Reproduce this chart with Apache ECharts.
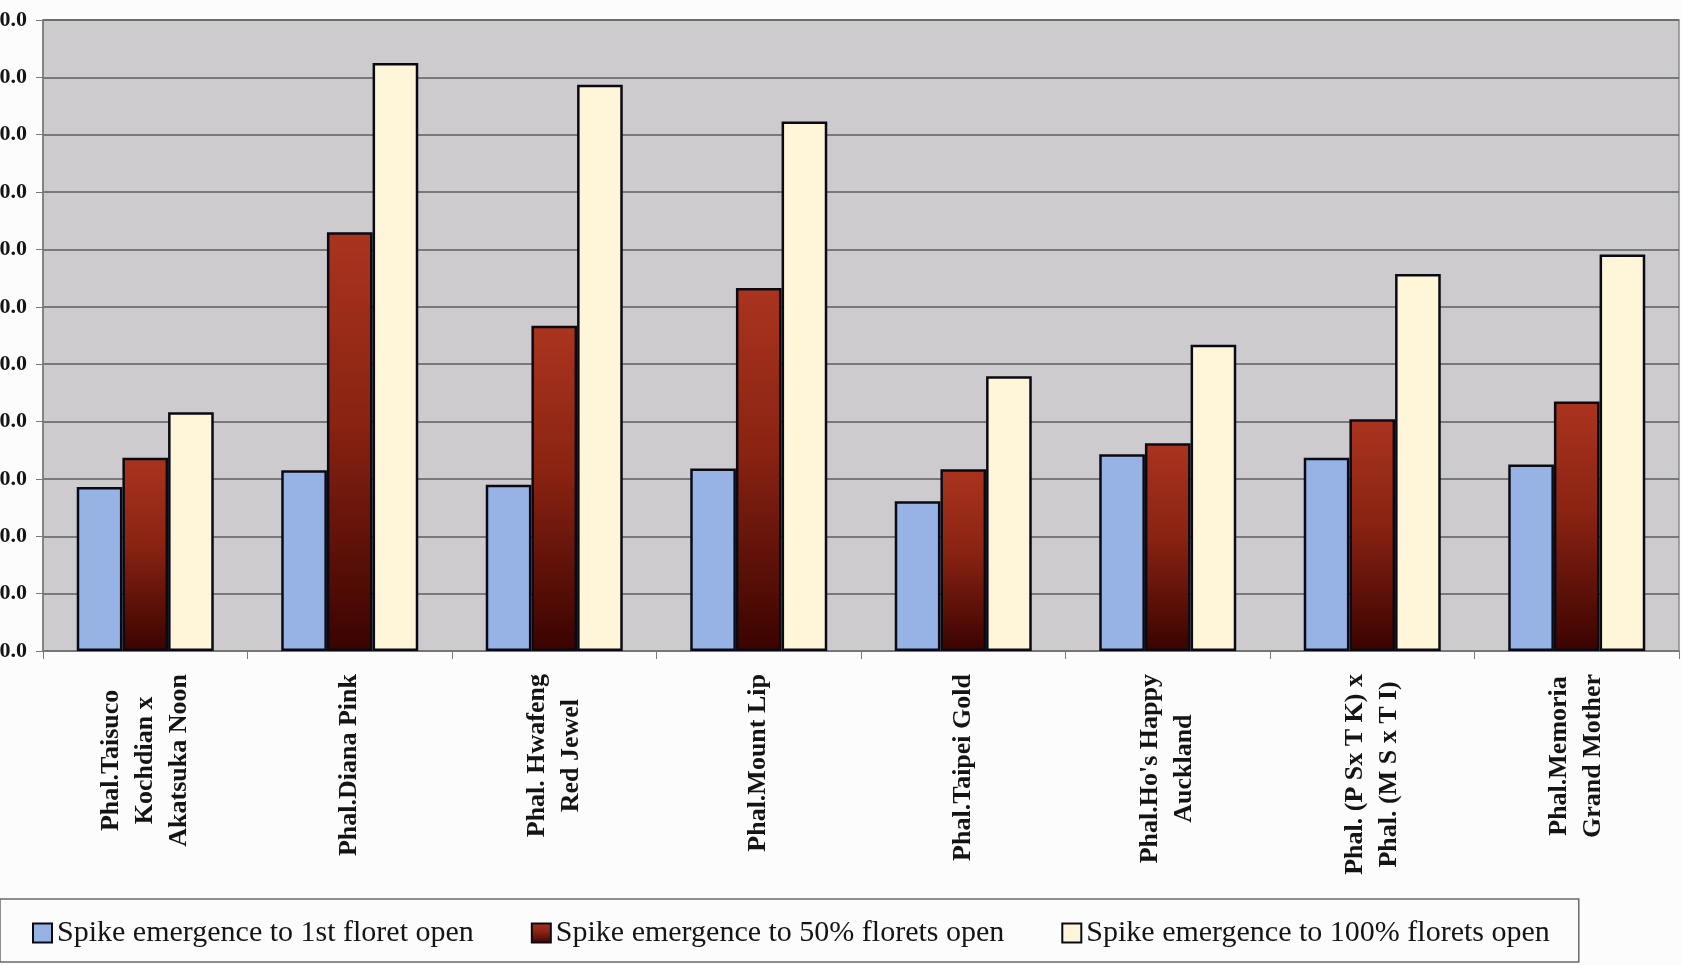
<!DOCTYPE html>
<html>
<head>
<meta charset="utf-8">
<title>Phalaenopsis spike development</title>
<script src="https://cdn.jsdelivr.net/npm/echarts@6/dist/echarts.min.js"></script>
<style>
  html, body { margin: 0; padding: 0; background: #fdfcfd; }
  #chart { width: 1682px; height: 965px; }
</style>
</head>
<body>
<div id="chart"></div>
<script>
// Hybrids / cultivars on the category axis (line breaks as printed)
const categories = [
  'Phal.Taisuco\nKochdian x\nAkatsuka Noon',
  'Phal.Diana Pink',
  'Phal. Hwafeng\nRed Jewel',
  'Phal.Mount Lip',
  'Phal.Taipei Gold',
  "Phal.Ho's Happy\nAuckland",
  'Phal. (P Sx T K) x\nPhal. (M S x T I)',
  'Phal.Memoria\nGrand Mother'
];

const seriesNames = [
  'Spike emergence to 1st floret open',
  'Spike emergence to 50% florets open',
  'Spike emergence to 100% florets open'
];

// Days from spike emergence
const firstFloret   = [28.6, 31.5, 29.0, 31.8, 26.1, 34.3, 33.7, 32.5];
const halfFlorets   = [33.7, 73.0, 56.7, 63.3, 31.7, 36.2, 40.4, 43.5];
const allFlorets    = [41.6, 102.5, 98.7, 92.3, 47.9, 53.4, 65.7, 69.1];

// Value axis range
const yMin = 0;
const yMax = 110;
const yStep = 10;

const chart = echarts.init(document.getElementById('chart'));

const serif = "'Liberation Serif', 'Times New Roman', serif";
const barBorder = { borderColor: '#0a0a14', borderWidth: 2.5 };

const redGradient = new echarts.graphic.LinearGradient(0, 0, 0, 1, [
  { offset: 0, color: '#aa341e' },
  { offset: 0.45, color: '#8a2312' },
  { offset: 1, color: '#3a0300' }
]);

chart.setOption({
  backgroundColor: '#fdfcfd',
  animation: false,
  grid: {
    left: 43,
    right: 3,
    top: 20,
    bottom: 314,
    containLabel: false,
    outerBoundsMode: 'none',
    show: true,
    backgroundColor: '#cecbcf',
    borderColor: '#8a8a8a',
    borderWidth: 1.5
  },
  legend: {
    left: 0,
    top: 899,
    orient: 'horizontal',
    padding: [19, 29, 14, 32],
    itemGap: 57,
    itemWidth: 19,
    itemHeight: 19,
    icon: 'rect',
    borderColor: '#6a6a6a',
    borderWidth: 1.5,
    textStyle: { fontFamily: serif, fontSize: 30, color: '#141414' },
    data: seriesNames
  },
  xAxis: {
    type: 'category',
    data: categories,
    axisLine: { lineStyle: { color: '#7a7a7a', width: 1.5 } },
    axisTick: { show: true, length: 8, lineStyle: { color: '#7a7a7a' } },
    axisLabel: {
      rotate: 90,
      margin: 23,
      interval: 0,
      formatter: function (v) {
        return v.split('\n').map(function (l) { return '{c|' + l + '}'; }).join('\n');
      },
      rich: {
        c: {
          align: 'center',
          fontFamily: serif,
          fontWeight: 'bold',
          fontSize: 26,
          lineHeight: 34,
          color: '#141414'
        }
      }
    }
  },
  yAxis: {
    type: 'value',
    min: yMin,
    max: yMax,
    interval: yStep,
    axisLine: { show: true, lineStyle: { color: '#7a7a7a', width: 1.5 } },
    axisTick: { show: true, length: 7, lineStyle: { color: '#7a7a7a' } },
    splitLine: { show: true, lineStyle: { color: '#5c5c5e', width: 1.5 } },
    axisLabel: {
      margin: 16,
      fontFamily: serif,
      fontWeight: 'bold',
      fontSize: 22,
      color: '#141414',
      formatter: function (v) { return v.toFixed(1); }
    }
  },
  series: [
    {
      name: seriesNames[0],
      type: 'bar',
      data: firstFloret,
      barGap: '0%',
      barCategoryGap: '33%',
      itemStyle: Object.assign({ color: '#97b3e6' }, barBorder)
    },
    {
      name: seriesNames[1],
      type: 'bar',
      data: halfFlorets,
      barGap: '0%',
      barCategoryGap: '33%',
      itemStyle: Object.assign({ color: redGradient }, barBorder)
    },
    {
      name: seriesNames[2],
      type: 'bar',
      data: allFlorets,
      barGap: '0%',
      barCategoryGap: '33%',
      itemStyle: Object.assign({ color: '#fff6da' }, barBorder)
    }
  ]
});
</script>
</body>
</html>
